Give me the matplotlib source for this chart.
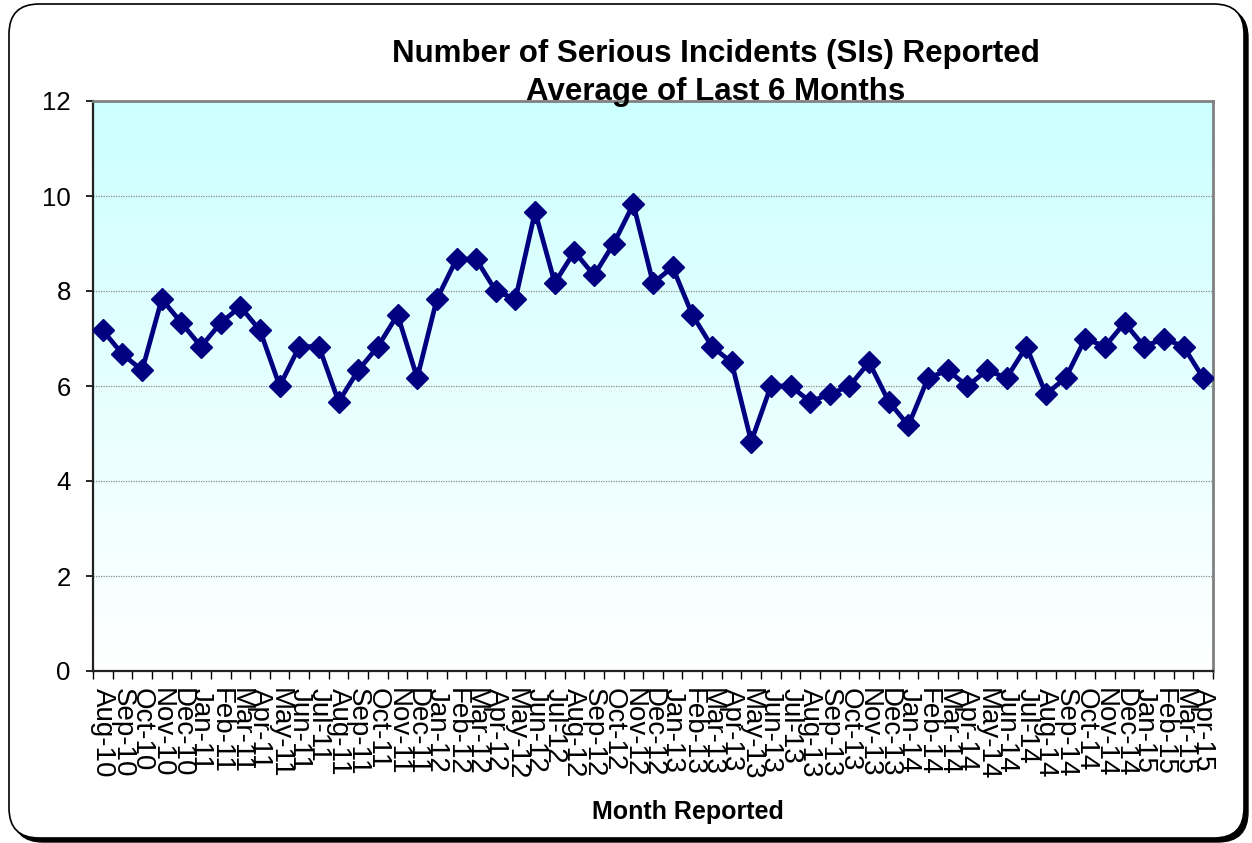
import matplotlib
matplotlib.use("Agg")
import matplotlib.pyplot as plt
import numpy as np
from matplotlib.patches import FancyBboxPatch
from matplotlib.ticker import FixedLocator, NullFormatter

plt.rcParams['font.family'] = ['Liberation Sans', 'DejaVu Sans']

months = ["Aug-10", "Sep-10", "Oct-10", "Nov-10", "Dec-10",
          "Jan-11", "Feb-11", "Mar-11", "Apr-11", "May-11", "Jun-11", "Jul-11",
          "Aug-11", "Sep-11", "Oct-11", "Nov-11", "Dec-11",
          "Jan-12", "Feb-12", "Mar-12", "Apr-12", "May-12", "Jun-12", "Jul-12",
          "Aug-12", "Sep-12", "Oct-12", "Nov-12", "Dec-12",
          "Jan-13", "Feb-13", "Mar-13", "Apr-13", "May-13", "Jun-13", "Jul-13",
          "Aug-13", "Sep-13", "Oct-13", "Nov-13", "Dec-13",
          "Jan-14", "Feb-14", "Mar-14", "Apr-14", "May-14", "Jun-14", "Jul-14",
          "Aug-14", "Sep-14", "Oct-14", "Nov-14", "Dec-14",
          "Jan-15", "Feb-15", "Mar-15", "Apr-15"]

values = [7.17, 6.67, 6.33, 7.83, 7.33,
          6.83, 7.33, 7.67, 7.17, 6.00, 6.83, 6.83,
          5.67, 6.33, 6.83, 7.50, 6.17,
          7.83, 8.67, 8.67, 8.00, 7.83, 9.67, 8.17,
          8.83, 8.33, 9.00, 9.83, 8.17,
          8.50, 7.50, 6.83, 6.50, 4.83, 6.00, 6.00,
          5.67, 5.83, 6.00, 6.50, 5.67,
          5.17, 6.17, 6.33, 6.00, 6.33, 6.17, 6.83,
          5.83, 6.17, 7.00, 6.83, 7.33,
          6.83, 7.00, 6.83, 6.17]

y_ticks = [0, 2, 4, 6, 8, 10, 12]

title = "Number of Serious Incidents (SIs) Reported\nAverage of Last 6 Months"
x_label = "Month Reported"

W, H = 1252, 843
fig = plt.figure(figsize=(W / 100, H / 100), dpi=100)
fig.patch.set_facecolor("white")

# Chart frame with shadow (pixel coordinates)
shadow = FancyBboxPatch((13, 1), 1235, 834, boxstyle="round,pad=0,rounding_size=30",
                        transform=None, facecolor="black", edgecolor="black", zorder=-3)
frame = FancyBboxPatch((9, 5), 1235, 834, boxstyle="round,pad=0,rounding_size=30",
                       transform=None, facecolor="white", edgecolor="black", linewidth=1.2, zorder=-2)
fig.add_artist(shadow)
fig.add_artist(frame)

ax = fig.add_axes([93 / W, (H - 671) / H, (1213 - 93) / W, (671 - 101) / H])
ax.set_facecolor("none")
ax.set_zorder(1)

x = np.arange(len(months))
n = len(months)

# Gradient background
grad = np.linspace(0, 1, 256).reshape(-1, 1)
top = np.array([204, 255, 255]) / 255.0
bot = np.array([255, 255, 255]) / 255.0
img = top[None, None, :] * (1 - grad[:, :, None]) + bot[None, None, :] * grad[:, :, None]
ax.imshow(img, extent=[0, 1, 0, 1], transform=ax.transAxes, aspect="auto", zorder=0)

ax.set_xlim(-0.5, n - 0.5)
ax.set_ylim(0, 12)

for yv in y_ticks[1:-1]:
    ax.axhline(yv, color="#8c8c8c", linestyle=(0, (1, 1)), linewidth=0.9, zorder=1)

ax.plot(x, values, color="#000080", linewidth=3.4, marker="D", markersize=11.5,
        markerfacecolor="#000080", markeredgecolor="#000080", zorder=3)

# Ticks
ax.set_yticks(y_ticks)
ax.set_yticklabels([str(v) for v in y_ticks], fontsize=18.5)
ax.tick_params(axis="y", direction="out", length=5, width=1.2, pad=11, colors="black")

ax.xaxis.set_major_locator(FixedLocator(np.arange(-0.5, n, 1.0)))
ax.xaxis.set_major_formatter(NullFormatter())
ax.set_xticks(x, minor=True)
ax.set_xticklabels(months, minor=True, rotation=-90, fontsize=20, ha="center", va="top")
ax.tick_params(axis="x", which="major", direction="out", length=6, width=1.0, colors="black")
ax.tick_params(axis="x", which="minor", length=0, pad=12)

for side in ["left", "bottom"]:
    ax.spines[side].set_color("#222222")
    ax.spines[side].set_linewidth(1.6)
for side in ["top", "right"]:
    ax.spines[side].set_color("#808080")
    ax.spines[side].set_linewidth(2.0)

fig.text(716 / W, 1 - 73 / H, title, ha="center", va="center", fontsize=22.5,
         fontweight="bold", linespacing=1.38)
fig.text(688 / W, 1 - 812 / H, x_label, ha="center", va="center", fontsize=18,
         fontweight="bold")

fig.savefig("out.png", dpi=100)
